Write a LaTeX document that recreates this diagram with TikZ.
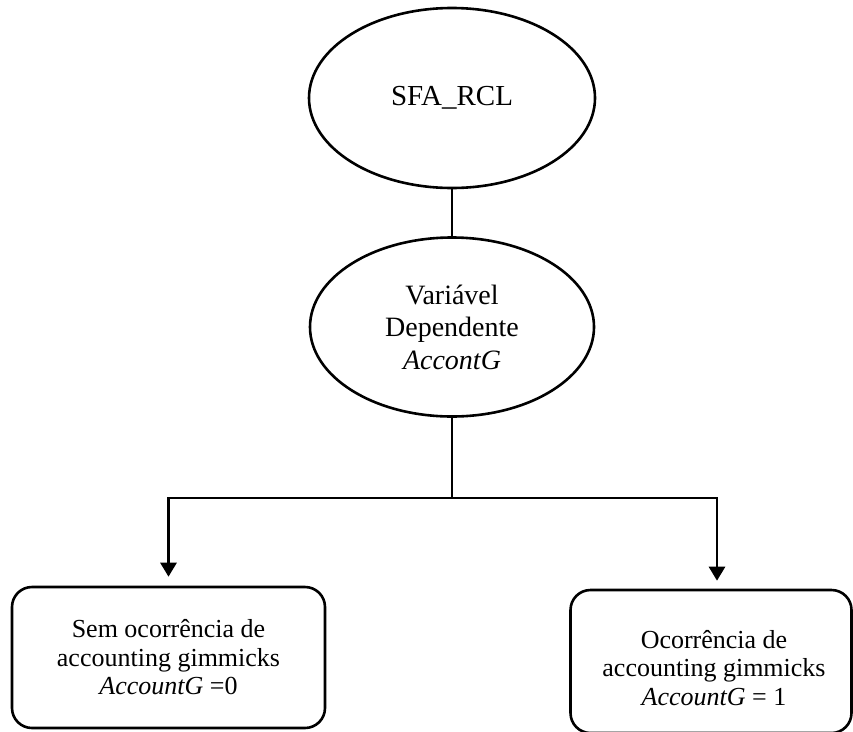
\documentclass[tikz,border=0pt]{standalone}
\usepackage{fontspec}
\setmainfont{Liberation Serif}
\usetikzlibrary{shapes.geometric,arrows.meta}
\begin{document}
\begin{tikzpicture}[x=1pt,y=-1pt,
  oval/.style={draw,ellipse,line width=2.6pt,inner sep=0pt,align=center},
  rbox/.style={draw,rounded corners=20pt,line width=2.6pt,inner sep=0pt,align=center,font=\fontsize{26}{28.5}\selectfont},
  conn/.style={line width=2.8pt},
  arr/.style={line width=2.8pt,-{Triangle[width=16pt,length=14pt]}}]
\useasboundingbox (0,0) rectangle (853,731);
\node[oval,minimum width=286pt,minimum height=180pt,font=\fontsize{29}{33}\selectfont] (top) at (452,98) {SFA\_RCL};
\node[oval,minimum width=284pt,minimum height=179pt,font=\fontsize{28}{32.5}\selectfont] (mid) at (452,327) {Variável\\Dependente\\\textit{AccontG}};
\node[rbox,minimum width=313pt,minimum height=141pt] (lb) at (168.5,657.5) {Sem ocorrência de\\accounting gimmicks\\\textit{AccountG} =0};
\node[rbox,minimum width=281pt,minimum height=143pt] (rb) at (711,661.5) {};
\node[align=center,inner sep=0pt,font=\fontsize{26}{28.5}\selectfont] (rt) at (714,668) {Ocorrência de\\accounting gimmicks\\\textit{AccountG} = 1};
\coordinate (j) at (452,498);
\draw[conn] (top.south) -- (mid.north);
\draw[conn] (mid.south) -- (j);
\draw[arr,shorten >=9pt] (j) -| (lb.north);
\draw[arr,shorten >=8pt] (j) -| ([xshift=6pt]rb.north);
\end{tikzpicture}
\end{document}
